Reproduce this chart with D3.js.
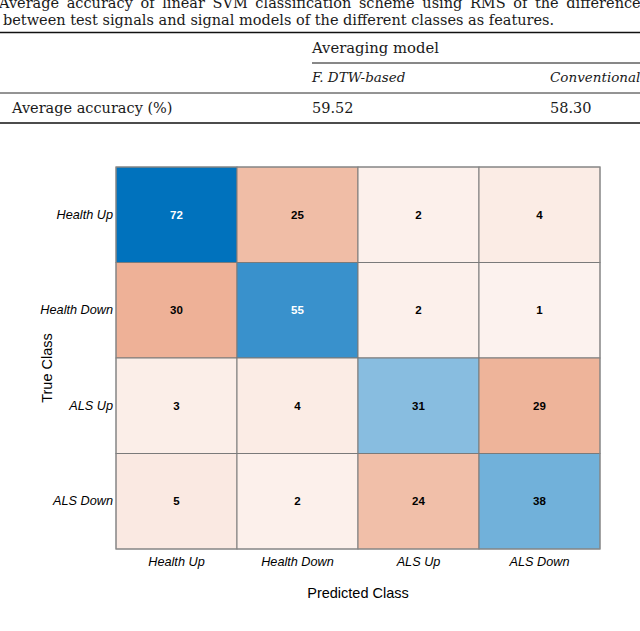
<!DOCTYPE html>
<html>
<head>
<meta charset="utf-8">
<script src="https://cdnjs.cloudflare.com/ajax/libs/d3/7.8.5/d3.min.js"></script>
<style>
  body { margin: 0; background: #fff; }
  svg { display: block; }
  .serif { font-family: "DejaVu Serif", "Liberation Serif", serif; fill: #1a1a1a; }
  .sans { font-family: "Liberation Sans", Arial, Helvetica, sans-serif; fill: #000; }
</style>
</head>
<body>
<svg id="chart"></svg>
<script>
// caption + table from the paper page
const captionLines = [
  "Average accuracy of linear SVM classification scheme using RMS of the differences",
  "between test signals and signal models of the different classes as features."
];
const tableGroup = "Averaging model";
const tableModels = ["F. DTW-based", "Conventional"];
const tableRowLabel = "Average accuracy (%)";
const tableValues = ["59.52", "58.30"];

// confusion matrix
const classes = ["Health Up", "Health Down", "ALS Up", "ALS Down"];
const counts = [
  [72, 25, 2, 4],
  [30, 55, 2, 1],
  [3, 4, 31, 29],
  [5, 2, 24, 38]
];
const xTitle = "Predicted Class";
const yTitle = "True Class";

const W = 640, H = 631;
const svg = d3.select("#chart").attr("width", W).attr("height", H);

// ---- table ----
const tbl = svg.append("g");
// first caption line is justified (wider word gaps), last one is not
tbl.selectAll("text.cap")
  .data(captionLines)
  .join("text")
  .attr("class", "serif cap")
  .attr("x", (d, i) => i === 0 ? -1 : 3)
  .attr("y", (d, i) => 8 + i * 16.5)
  .style("font-size", "14.5px")
  .style("word-spacing", (d, i) => i === 0 ? "3px" : "0px")
  .text(d => d);

const colX = [312, 550];
function rule(x1, x2, y, w) {
  tbl.append("line").attr("x1", x1).attr("x2", x2).attr("y1", y).attr("y2", y)
    .attr("stroke", "#111").attr("stroke-width", w);
}
rule(0, W, 32.5, 1.3);
rule(colX[0], W, 63, 1);
rule(0, W, 93, 0.9);
rule(0, W, 123, 1.4);

tbl.append("text").attr("class", "serif").attr("x", colX[0]).attr("y", 53)
  .style("font-size", "14.8px").text(tableGroup);
tbl.selectAll("text.mod").data(tableModels).join("text")
  .attr("class", "serif mod").attr("x", (d, i) => colX[i]).attr("y", 82)
  .style("font-size", "13.5px").style("font-style", "italic").text(d => d);
tbl.append("text").attr("class", "serif").attr("x", 12).attr("y", 113)
  .style("font-size", "14.5px").text(tableRowLabel);
tbl.selectAll("text.val").data(tableValues).join("text")
  .attr("class", "serif val").attr("x", (d, i) => colX[i]).attr("y", 113)
  .style("font-size", "14.5px").text(d => d);

// ---- confusion chart ----
const x = d3.scaleBand().domain(classes).range([116, 600]);
const y = d3.scaleBand().domain(classes).range([167, 549]);

const maxCount = d3.max(counts.flat());
const shade = d3.scaleLinear().domain([0, maxCount]).range([0.06, 1]);
const blue = d3.interpolateRgb("#ffffff", "#0072bd");
const red = d3.interpolateRgb("#ffffff", "#d95319");

const cells = [];
counts.forEach((row, i) => row.forEach((v, j) => cells.push({ t: classes[i], p: classes[j], v, diag: i === j })));

const g = svg.append("g");
g.selectAll("rect.cell").data(cells).join("rect")
  .attr("class", "cell")
  .attr("x", d => x(d.p)).attr("y", d => y(d.t))
  .attr("width", x.bandwidth()).attr("height", y.bandwidth())
  .attr("fill", d => (d.diag ? blue : red)(shade(d.v)))
  .attr("stroke", "#7a7a7a").attr("stroke-width", 1);

g.selectAll("text.num").data(cells).join("text")
  .attr("class", "sans num")
  .attr("x", d => x(d.p) + x.bandwidth() / 2)
  .attr("y", d => y(d.t) + y.bandwidth() / 2 + 4)
  .attr("text-anchor", "middle")
  .style("font-size", "11.5px").style("font-weight", "bold")
  .style("fill", d => shade(d.v) > 0.7 ? "#fff" : "#000")
  .text(d => d.v);

g.append("rect").attr("x", 116).attr("y", 167).attr("width", 484).attr("height", 382)
  .attr("fill", "none").attr("stroke", "#8a8a8a").attr("stroke-width", 1);

// row labels
g.selectAll("text.rl").data(classes).join("text")
  .attr("class", "sans rl")
  .attr("x", 113).attr("y", d => y(d) + y.bandwidth() / 2 + 4)
  .attr("text-anchor", "end")
  .style("font-size", "12.7px").style("font-style", "italic")
  .text(d => d);

// column labels
g.selectAll("text.cl").data(classes).join("text")
  .attr("class", "sans cl")
  .attr("x", d => x(d) + x.bandwidth() / 2).attr("y", 566)
  .attr("text-anchor", "middle")
  .style("font-size", "12.7px").style("font-style", "italic")
  .text(d => d);

g.append("text").attr("class", "sans")
  .attr("x", 358).attr("y", 598).attr("text-anchor", "middle")
  .style("font-size", "14.5px").text(xTitle);

g.append("text").attr("class", "sans")
  .attr("transform", "translate(52,368) rotate(-90)")
  .attr("text-anchor", "middle")
  .style("font-size", "14.5px").text(yTitle);
</script>
</body>
</html>
